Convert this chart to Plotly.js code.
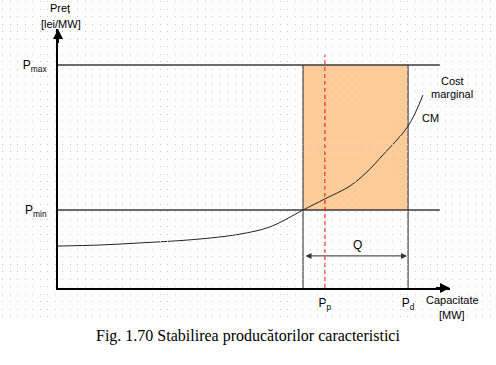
<!DOCTYPE html>
<html><head><meta charset="utf-8">
<script src="https://cdn.plot.ly/plotly-3.0.1.min.js"></script>
<style>body{margin:0;background:#fff}</style>
</head><body><div id="chart" style="width:496px;height:365px"></div>
<script>
// ---- data (chart units: capacity 0-100, price 0-100) ----
const curveX = [0, 10.7, 20.9, 31.1, 38.8, 46.4, 54.1, 62.5, 68.1, 74.5, 78.8, 82.9, 89.3, 93.1];
const curveY = [16.2, 16.6, 17.4, 18.3, 19.3, 20.8, 23.6, 30.1, 34.4, 39.4, 44.8, 51.4, 62.5, 74.5];
const priceLevels = [86.1, 30.1];               // Pmax, Pmin
const priceLabels = ['P<sub>max</sub>', 'P<sub>min</sub>'];
const capLevels = [68.1, 89.3];                 // Pp, Pd
const capLabels = ['P<sub>p</sub>', 'P<sub>d</sub>'];
const bandX = [62.5, 89.3];                     // shaded band edges
const lineEndX = 97.4;
const redTopY = 90;
const qY = 12.4;

const NARROW = "'Liberation Sans Narrow','Arial Narrow','Liberation Sans',Arial,sans-serif";
const pmax = priceLevels[0], pmin = priceLevels[1];

const traces = [
  {x: [0, lineEndX], y: [pmax, pmax], mode: 'lines', line: {color: '#3a3a3a', width: 1.5}},
  {x: [0, lineEndX], y: [pmin, pmin], mode: 'lines', line: {color: '#3a3a3a', width: 1.5}},
  {x: [bandX[0], bandX[0]], y: [0, pmax], mode: 'lines', line: {color: '#444', width: 1.2}},
  {x: [bandX[1], bandX[1]], y: [0, pmax], mode: 'lines', line: {color: '#444', width: 1.2}},
  {x: [capLevels[0], capLevels[0]], y: [0, redTopY], mode: 'lines', line: {color: '#ff0000', width: 1, dash: '4px,3px'}},
  {x: curveX, y: curveY, mode: 'lines', line: {color: '#222', width: 1, shape: 'spline', smoothing: 1}},
  {x: [], y: [], xaxis: 'x2', yaxis: 'y2', mode: 'markers'}
];
traces.forEach(t => { t.hoverinfo = 'skip'; t.showlegend = false; t.cliponaxis = false; });

function txt(text, x, y, size, family, extra) {
  return Object.assign({text: text, x: x, y: y, xref: 'paper', yref: 'paper', showarrow: false,
    xanchor: 'center', yanchor: 'middle', font: {family: family || NARROW, size: size || 11, color: '#000'}}, extra || {});
}

const annotations = [
  // axis arrowheads
  {x: 100, y: 0, ax: 96, ay: 0, xref: 'x', yref: 'y', axref: 'x', ayref: 'y', text: '', showarrow: true,
   arrowhead: 2, arrowsize: 1, arrowwidth: 2, arrowcolor: '#000'},
  {x: 0, y: 100, ax: 0, ay: 94, xref: 'x', yref: 'y', axref: 'x', ayref: 'y', text: '', showarrow: true,
   arrowhead: 2, arrowsize: 1, arrowwidth: 2, arrowcolor: '#000'},
  // Q double arrow
  {x: bandX[1], y: qY, ax: bandX[0], ay: qY, xref: 'x', yref: 'y', axref: 'x', ayref: 'y', text: '', showarrow: true,
   arrowside: 'end+start', arrowhead: 2, startarrowhead: 2, arrowsize: 1.2, startarrowsize: 1.2, arrowwidth: 1, arrowcolor: '#333', standoff: 1, startstandoff: 1},
  {text: 'Q', x: 76.5, y: 16.6, xref: 'x', yref: 'y', showarrow: false, font: {family: NARROW, size: 12, color: '#000'}},
  {text: 'CM', x: 94.9, y: 65.6, xref: 'x', yref: 'y', showarrow: false, font: {family: NARROW, size: 11, color: '#000'}},
  txt('Cost', 452 / 496, 1 - 81 / 365),
  txt('marginal', 452 / 496, 1 - 94 / 365),
  txt('Preț', 60 / 496, 1 - 8 / 365),
  txt('[lei/MW]', 60.5 / 496, 1 - 24 / 365),
  txt('Capacitate', 452 / 496, 1 - 300 / 365),
  txt('[MW]', 452 / 496, 1 - 315 / 365),
  txt('Fig. 1.70 Stabilirea producătorilor caracteristici', 247.5 / 496, 1 - 336 / 365, 16, "'Liberation Serif','Times New Roman',serif")
];

const layout = {
  width: 496, height: 365,
  margin: {l: 0, r: 0, t: 0, b: 0},
  paper_bgcolor: '#fff', plot_bgcolor: 'rgba(0,0,0,0)',
  showlegend: false,
  xaxis: {domain: [58 / 496, 450 / 496], range: [0, 100], anchor: 'y', showline: true, linecolor: '#000', linewidth: 2,
    showgrid: false, zeroline: false, ticks: '', tickvals: capLevels, ticktext: capLabels,
    tickfont: {family: NARROW, size: 12, color: '#000'}, ticklabelstandoff: 3, fixedrange: true},
  yaxis: {domain: [77 / 365, 336 / 365], range: [0, 100], anchor: 'x', showline: true, linecolor: '#000', linewidth: 2,
    showgrid: false, zeroline: false, ticks: '', tickvals: priceLevels, ticktext: priceLabels,
    tickfont: {family: NARROW, size: 12, color: '#000'}, ticklabelstandoff: 7, fixedrange: true},
  xaxis2: {domain: [2 / 496, 1], range: [0, 494], anchor: 'y2', showgrid: false, zeroline: false, showline: false,
    showticklabels: false, ticks: '', fixedrange: true},
  yaxis2: {domain: [45 / 365, 1], range: [0, 320], anchor: 'x2', showgrid: true, gridcolor: '#c8c8c8', gridwidth: 1,
    griddash: '1px,6.5px', dtick: 7.5, tick0: 3.5, zeroline: false, showline: false, showticklabels: false, ticks: '', fixedrange: true},
  shapes: [
    {type: 'rect', xref: 'x', yref: 'y', x0: bandX[0], x1: bandX[1], y0: pmin, y1: pmax,
     fillcolor: '#FFCC99', line: {width: 0}, layer: 'below'}
  ],
  annotations: annotations
};

Plotly.newPlot('chart', traces, layout, {displayModeBar: false, staticPlot: true});
</script></body></html>
